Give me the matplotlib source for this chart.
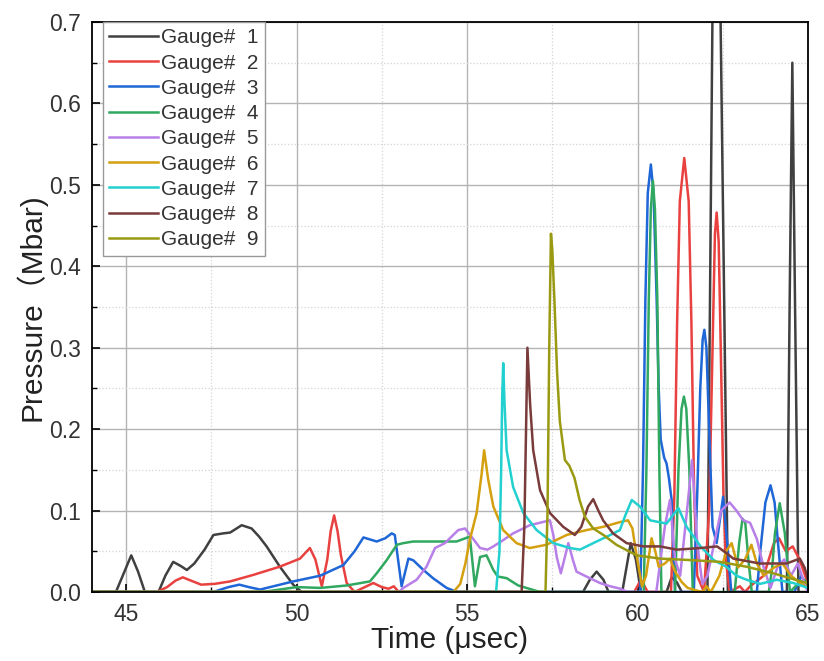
import matplotlib
matplotlib.use("Agg")
import matplotlib.pyplot as plt
from matplotlib.ticker import MultipleLocator

plt.rcParams['font.family'] = ['Liberation Sans', 'Noto Sans CJK SC', 'DejaVu Sans']

# gauge traces, time in usec, pressure in Mbar
g1_t = [44.0, 44.7, 44.95, 45.15, 45.35, 45.55, 45.95, 46.15, 46.38, 46.6, 46.78, 47.0, 47.3, 47.56,
        47.85, 48.05, 48.39, 48.68, 48.9, 49.12, 49.51, 49.9, 50.15, 58.4, 58.6, 58.8, 59.0, 59.15,
        59.55, 59.8, 59.95, 60.1, 60.85, 61.0, 61.15, 61.3, 62.05, 62.2, 62.31, 62.43, 62.65,
        64.38, 64.46, 64.54, 64.62, 64.72, 65.0]
g1_p = [0.0, 0.0, 0.025, 0.045, 0.025, 0.0, 0.0, 0.02, 0.037, 0.032, 0.027, 0.035, 0.052, 0.070,
        0.072, 0.073, 0.082, 0.078, 0.068, 0.056, 0.031, 0.009, 0.0, 0.0, 0.015, 0.025, 0.015, 0.0,
        0.0, 0.06, 0.04, 0.0, 0.0, 0.018, 0.012, 0.0, 0.0, 0.72, 1.0, 0.72, 0.0,
        0.0, 0.35, 0.65, 0.35, 0.0, 0.0]

g2_t = [44.0, 45.9, 46.2, 46.45, 46.66, 46.9, 47.2, 47.6, 48.05, 48.73, 49.5, 50.1, 50.39, 50.55,
        50.74, 50.9, 51.0, 51.1, 51.2, 51.3, 51.47, 51.7, 51.95, 52.25, 52.5, 52.7, 52.85, 53.0,
        59.9, 60.1, 60.3, 60.98, 61.08, 61.16, 61.24, 61.37, 61.5, 61.58, 61.66, 61.75, 61.95,
        62.1, 62.2, 62.27, 62.32, 62.38, 62.44, 62.52, 62.58, 62.7, 63.0, 63.15, 63.3, 63.7,
        64.0, 64.15, 64.35, 64.55, 64.75, 65.0]
g2_p = [0.0, 0.0, 0.006, 0.014, 0.018, 0.014, 0.009, 0.01, 0.013, 0.021, 0.031, 0.041, 0.054, 0.04,
        0.007, 0.04, 0.075, 0.094, 0.075, 0.045, 0.011, 0.0, 0.005, 0.011, 0.006, 0.004, 0.007, 0.0,
        0.0, 0.015, 0.0, 0.0, 0.12, 0.33, 0.48, 0.533, 0.48, 0.33, 0.12, 0.02, 0.0,
        0.1, 0.3, 0.44, 0.466, 0.43, 0.3, 0.12, 0.043, 0.0, 0.007, 0.0, 0.007, 0.02,
        0.06, 0.066, 0.05, 0.056, 0.04, 0.01]

g3_t = [44.0, 47.55, 48.0, 48.32, 48.6, 48.93, 49.9, 50.69, 51.37, 51.7, 51.96, 52.35, 52.6, 52.79,
        52.88, 53.08, 53.28, 53.42, 53.72, 54.0, 54.4, 54.7, 60.08, 60.16, 60.23, 60.3, 60.39,
        60.47, 60.56, 60.62, 60.68, 60.78, 60.85, 60.92, 61.0, 61.05, 61.1, 61.65, 61.75, 61.84,
        61.91, 61.96, 62.02, 62.1, 62.2, 62.32, 62.51, 62.65, 62.75, 63.5, 63.6, 63.75, 63.9,
        64.02, 64.12, 64.25, 64.6, 64.8, 65.0]
g3_p = [0.0, 0.0, 0.006, 0.009, 0.006, 0.003, 0.013, 0.02, 0.033, 0.05, 0.067, 0.062, 0.066, 0.072,
        0.07, 0.007, 0.041, 0.039, 0.027, 0.017, 0.005, 0.0, 0.0, 0.15, 0.36, 0.49, 0.525,
        0.49, 0.36, 0.25, 0.187, 0.165, 0.158, 0.14, 0.113, 0.05, 0.0, 0.0, 0.12, 0.25,
        0.31, 0.322, 0.3, 0.2, 0.08, 0.06, 0.117, 0.05, 0.0, 0.0, 0.05, 0.11, 0.131,
        0.11, 0.06, 0.0, 0.0, 0.02, 0.005]

g4_t = [44.0, 49.0, 50.0, 50.7, 51.47, 52.15, 52.35, 52.64, 52.94, 53.13, 53.42, 54.0, 54.69, 55.08,
        55.15, 55.23, 55.38, 55.57, 55.77, 55.9, 56.16, 56.5, 57.14, 60.18, 60.26, 60.33, 60.39,
        60.45, 60.51, 60.58, 60.64, 60.7, 61.1, 61.2, 61.29, 61.36, 61.43, 61.52, 61.62, 62.85,
        62.98, 63.08, 63.16, 63.25, 63.35, 63.85, 63.95, 64.03, 64.17, 64.32, 64.47, 64.7, 64.9, 65.0]
g4_p = [0.0, 0.0, 0.006, 0.005, 0.008, 0.013, 0.023, 0.039, 0.058, 0.06, 0.062, 0.062, 0.062, 0.068,
        0.04, 0.007, 0.043, 0.045, 0.027, 0.019, 0.017, 0.008, 0.0, 0.0, 0.15, 0.36, 0.47,
        0.505, 0.47, 0.36, 0.15, 0.0, 0.0, 0.15, 0.225, 0.24, 0.225, 0.15, 0.0, 0.0,
        0.06, 0.09, 0.085, 0.04, 0.0, 0.0, 0.03, 0.072, 0.109, 0.072, 0.0, 0.01, 0.015, 0.005]

g5_t = [44.0, 53.0, 53.13, 53.52, 53.81, 54.06, 54.35, 54.74, 54.94, 55.13, 55.38, 55.6, 55.77,
        56.0, 56.35, 56.84, 57.23, 57.43, 57.53, 57.63, 57.75, 57.97, 58.1, 58.21, 58.45, 58.9,
        59.2, 59.5, 59.7, 60.55, 60.8, 60.95, 61.1, 61.25, 61.45, 61.6, 61.75, 61.9, 62.05, 62.25,
        62.45, 62.7, 62.9, 63.1, 63.3, 63.5, 63.7, 63.9, 64.1, 64.3, 64.5, 64.7, 64.9, 65.0]
g5_p = [0.0, 0.0, 0.005, 0.015, 0.031, 0.054, 0.06, 0.076, 0.078, 0.068, 0.054, 0.052, 0.056,
        0.062, 0.072, 0.082, 0.086, 0.088, 0.07, 0.043, 0.023, 0.06, 0.04, 0.025, 0.02, 0.011,
        0.007, 0.004, 0.0, 0.0, 0.08, 0.113, 0.04, 0.02, 0.1, 0.162, 0.06, 0.01, 0.02, 0.06,
        0.1, 0.11, 0.1, 0.088, 0.085, 0.065, 0.03, 0.005, 0.03, 0.04, 0.02, 0.035, 0.01, 0.0]

g6_t = [44.0, 54.6, 54.8, 54.95, 55.08, 55.28, 55.43, 55.5, 55.62, 55.77, 56.06, 56.45, 56.84,
        57.33, 57.92, 58.5, 58.99, 59.5, 59.72, 59.85, 59.95, 60.03, 60.13, 60.25, 60.41, 60.52,
        60.62, 60.8, 60.95, 61.1, 61.3, 61.47, 61.9, 62.02, 62.15, 62.4, 62.6, 62.76, 62.95,
        63.15, 63.34, 63.5, 63.7, 64.0, 64.25, 64.5, 64.8, 65.0]
g6_p = [0.0, 0.0, 0.01, 0.035, 0.064, 0.097, 0.146, 0.174, 0.138, 0.105, 0.076, 0.06, 0.054,
        0.058, 0.07, 0.076, 0.08, 0.086, 0.088, 0.078, 0.05, 0.031, 0.007, 0.02, 0.066, 0.05,
        0.031, 0.035, 0.041, 0.025, 0.012, 0.005, 0.0, 0.007, 0.0, 0.02, 0.05, 0.06, 0.03,
        0.04, 0.058, 0.035, 0.02, 0.03, 0.035, 0.02, 0.01, 0.005]

g7_t = [44.0, 55.85, 55.95, 56.0, 56.03, 56.06, 56.1, 56.16, 56.35, 56.65, 57.04, 57.53, 58.02,
        58.31, 58.7, 59.2, 59.48, 59.65, 59.83, 60.07, 60.37, 60.85, 61.05, 61.2, 61.44, 61.85,
        62.24, 62.6, 62.9, 63.2, 63.6, 64.08, 64.57, 65.0]
g7_p = [0.0, 0.0, 0.05, 0.15, 0.24, 0.281, 0.23, 0.174, 0.129, 0.097, 0.076, 0.06, 0.054,
        0.052, 0.06, 0.07, 0.076, 0.095, 0.113, 0.105, 0.088, 0.084, 0.095, 0.103, 0.08, 0.056,
        0.039, 0.031, 0.02, 0.015, 0.01, 0.015, 0.011, 0.005]

g8_t = [44.0, 56.6, 56.68, 56.73, 56.77, 56.85, 56.94, 57.14, 57.43, 57.82, 58.16, 58.35, 58.55,
        58.7, 58.85, 58.99, 59.28, 59.68, 60.17, 60.66, 61.15, 61.85, 62.33, 62.6, 62.81, 63.59,
        64.37, 64.76, 64.9, 65.0]
g8_p = [0.0, 0.0, 0.08, 0.2, 0.3, 0.23, 0.174, 0.125, 0.097, 0.08, 0.07, 0.08, 0.105,
        0.114, 0.1, 0.088, 0.072, 0.06, 0.056, 0.056, 0.052, 0.054, 0.056, 0.048, 0.041, 0.035,
        0.035, 0.041, 0.03, 0.015]

g9_t = [44.0, 57.3, 57.36, 57.41, 57.46, 57.5, 57.56, 57.64, 57.72, 57.87, 58.0, 58.15, 58.3,
        58.46, 58.7, 59.0, 59.38, 59.97, 60.66, 61.64, 62.42, 63.2, 63.98, 64.96, 65.0]
g9_p = [0.0, 0.0, 0.1, 0.3, 0.44, 0.42, 0.36, 0.27, 0.21, 0.162, 0.155, 0.14, 0.113,
        0.092, 0.078, 0.07, 0.058, 0.045, 0.041, 0.039, 0.037, 0.031, 0.023, 0.011, 0.01]

times = [g1_t, g2_t, g3_t, g4_t, g5_t, g6_t, g7_t, g8_t, g9_t]
pressures = [g1_p, g2_p, g3_p, g4_p, g5_p, g6_p, g7_p, g8_p, g9_p]
labels = ["Gauge#  %d" % i for i in range(1, 10)]
colors = ['#404040', '#e8413f', '#1f66d6', '#30a860', '#b87fe8',
          '#d4a010', '#22d0d0', '#7a3b3b', '#9a9a12']

fig = plt.figure(figsize=(8.24, 6.61), dpi=100)
ax = fig.add_axes([0.1117, 0.1044, 0.8689, 0.8623])

for t, p, lab, c in zip(times, pressures, labels, colors):
    ax.plot(t, p, color=c, lw=1.8, label=lab)

ax.set_xlim(44, 65)
ax.set_ylim(0, 0.7)
ax.xaxis.set_major_locator(MultipleLocator(5))
ax.xaxis.set_minor_locator(MultipleLocator(2.5))
ax.yaxis.set_major_locator(MultipleLocator(0.1))
ax.yaxis.set_minor_locator(MultipleLocator(0.05))
ax.yaxis.set_major_formatter(plt.FormatStrFormatter('%.1f'))

ax.grid(which='major', color='#b4b4b4', lw=1.0, ls='-')
ax.grid(which='minor', color='#d4d4d4', lw=0.9, ls=':')
ax.set_axisbelow(True)

ax.tick_params(which='both', direction='in', top=False, right=False, colors='black',
               labelcolor='#333333', labelsize=16.5)
ax.tick_params(which='major', length=6, width=1.2, pad=8)
ax.tick_params(which='minor', length=3.5, width=1.0)
for s in ax.spines.values():
    s.set_linewidth(1.3)

ax.set_xlabel("Time (\u03bcsec)", fontsize=21.5, color='#222222', labelpad=0)
ax.set_ylabel("Pressure\uff08Mbar)", fontsize=21.5, color='#222222', labelpad=2)

leg = ax.legend(loc='upper left', bbox_to_anchor=(0.015, 1.0), borderaxespad=0,
                fontsize=15, handlelength=2.35, handletextpad=0.15, labelspacing=0.3,
                borderpad=0.3, fancybox=False, framealpha=1, edgecolor='#999999')
leg.get_frame().set_linewidth(1.0)
for txt in leg.get_texts():
    txt.set_color('#333333')

fig.savefig("out.png", dpi=100)
